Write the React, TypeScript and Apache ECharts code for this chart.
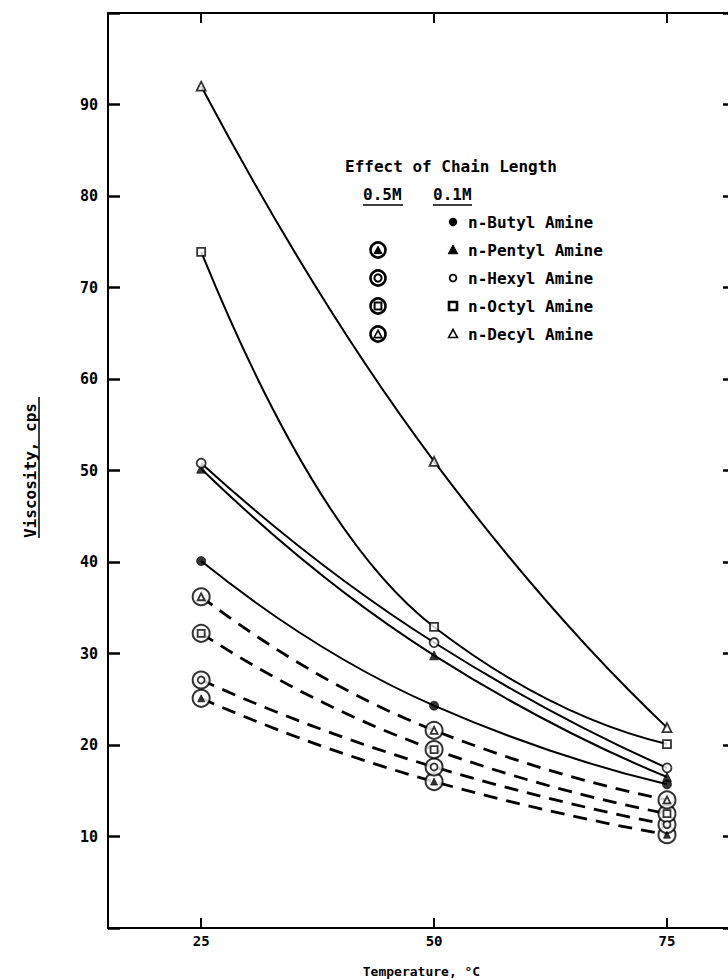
import React, { useEffect, useRef } from "react";
import * as echarts from "echarts";

// Temperatures (°C)
const temps = [25, 50, 75];
// 0.1M series (solid lines)
const butyl01 = [40.1, 24.3, 15.7];
const pentyl01 = [50.2, 29.8, 16.5];
const hexyl01 = [50.8, 31.2, 17.5];
const octyl01 = [73.9, 32.9, 20.1];
const decyl01 = [92.0, 51.0, 21.9];
// 0.5M series (dashed lines)
const pentyl05 = [25.1, 16.0, 10.2];
const hexyl05 = [27.1, 17.6, 11.3];
const octyl05 = [32.2, 19.5, 12.5];
const decyl05 = [36.2, 21.6, 14.0];
// tick labels
const xTicks = [25, 50, 75];

const FF = '"DejaVu Sans Mono", "Liberation Mono", monospace';
const FW = "bold";

const pts = (arr: number[]) => temps.map((t, i) => [t, arr[i]]);

type Sym = { symbol: string; filled: boolean; size: number };
const SYM: Record<string, Sym> = {
  butyl: { symbol: "circle", filled: true, size: 9 },
  pentyl: { symbol: "triangle", filled: true, size: 9 },
  hexyl: { symbol: "circle", filled: false, size: 9 },
  octyl: { symbol: "rect", filled: false, size: 8 },
  decyl: { symbol: "triangle", filled: false, size: 9 },
};

// smooth curve through the data points (monotone Hermite, drawn via the axis scales)
const curveSeries = (name: string, arr: number[], width: number, dash: number[] | null) => ({
  name: name + " curve",
  type: "custom",
  coordinateSystem: "cartesian2d",
  data: pts(arr),
  silent: true,
  z: 2,
  renderItem: (params: any, api: any) => {
    if (params.dataIndex !== 0) return null;
    const n = temps.length;
    const c: number[] = [];
    for (let i = 0; i < n - 1; i++) c.push((arr[i + 1] - arr[i]) / (temps[i + 1] - temps[i]));
    const m: number[] = new Array(n).fill(0);
    for (let i = 1; i < n - 1; i++) {
      m[i] = c[i - 1] * c[i] > 0 ? 2 / (1 / c[i - 1] + 1 / c[i]) : 0;
    }
    m[0] = 2 * c[0] - m[1];
    m[n - 1] = 2 * c[n - 2] - m[n - 2];
    const p0 = api.coord([temps[0], arr[0]]);
    let d = `M${p0[0]},${p0[1]}`;
    for (let i = 0; i < n - 1; i++) {
      const h = temps[i + 1] - temps[i];
      const a = api.coord([temps[i] + h / 3, arr[i] + (m[i] * h) / 3]);
      const b = api.coord([temps[i + 1] - h / 3, arr[i + 1] - (m[i + 1] * h) / 3]);
      const e = api.coord([temps[i + 1], arr[i + 1]]);
      d += ` C${a[0]},${a[1]} ${b[0]},${b[1]} ${e[0]},${e[1]}`;
    }
    return {
      type: "path",
      shape: { pathData: d },
      style: dash
        ? { fill: "none", stroke: "#000", lineWidth: width, lineDash: dash }
        : { fill: "none", stroke: "#000", lineWidth: width },
    };
  },
});

const markerSeries = (name: string, arr: number[], key: string, size: number, z: number) => ({
  name,
  type: "scatter",
  data: pts(arr),
  symbol: SYM[key].symbol,
  symbolSize: size,
  itemStyle: SYM[key].filled
    ? { color: "#000", borderColor: "#000", borderWidth: 0.8 }
    : { color: "#fff", borderColor: "#000", borderWidth: 1.8 },
  silent: true,
  z,
});

const solid = (name: string, arr: number[], key: string) => [
  curveSeries(name, arr, 2, null),
  markerSeries(name, arr, key, SYM[key].size, 4),
];

const dashed = (name: string, arr: number[], key: string) => [
  curveSeries(name, arr, 2.8, [14, 9]),
  {
    name: name + " ring",
    type: "scatter",
    data: pts(arr),
    symbol: "circle",
    symbolSize: 17,
    itemStyle: { color: "#fff", borderColor: "#000", borderWidth: 2 },
    silent: true,
    z: 3,
  },
  markerSeries(name, arr, key, 7, 4),
];

// legend drawing helpers (graphic)
const txt = (x: number, y: number, text: string, size = 16) => ({
  type: "text",
  x,
  y,
  style: {
    text,
    fontFamily: FF,
    fontSize: size,
    fontWeight: FW,
    fill: "#000",
    align: "left",
    verticalAlign: "middle",
  },
});
const hline = (x1: number, x2: number, y: number, w = 1.5) => ({
  type: "line",
  shape: { x1, y1: y, x2, y2: y },
  style: { stroke: "#000", lineWidth: w },
});
const tri = (cx: number, cy: number, r: number, filled: boolean) => ({
  type: "polygon",
  shape: {
    points: [
      [cx, cy - r],
      [cx - r * 0.95, cy + r * 0.75],
      [cx + r * 0.95, cy + r * 0.75],
    ],
  },
  style: filled
    ? { fill: "#000", stroke: "#000", lineWidth: 1 }
    : { fill: "#fff", stroke: "#000", lineWidth: 1.6 },
});
const circ = (cx: number, cy: number, r: number, filled: boolean, lw = 1.8) => ({
  type: "circle",
  shape: { cx, cy, r },
  style: filled ? { fill: "#000" } : { fill: "#fff", stroke: "#000", lineWidth: lw },
});
const sq = (cx: number, cy: number, h: number, lw = 2.4) => ({
  type: "rect",
  shape: { x: cx - h, y: cy - h, width: 2 * h, height: 2 * h },
  style: { fill: "#fff", stroke: "#000", lineWidth: lw },
});

export default function App() {
  const ref = useRef<HTMLDivElement>(null);
  useEffect(() => {
    if (!ref.current) return;
    const chart = echarts.init(ref.current, null, { renderer: "svg" });

    const mx = 453; // 0.1M marker column
    const rx = 378; // 0.5M marker column
    const tx = 468; // row text start
    const rows = [222, 250, 278, 306, 334];

    const graphic: any[] = [
      txt(345, 166, "Effect of Chain Length"),
      txt(363, 194, "0.5M"),
      txt(433, 194, "0.1M"),
      hline(363, 403, 205),
      hline(433, 472, 205),
      txt(tx, rows[0], "n-Butyl Amine"),
      txt(tx, rows[1], "n-Pentyl Amine"),
      txt(tx, rows[2], "n-Hexyl Amine"),
      txt(tx, rows[3], "n-Octyl Amine"),
      txt(tx, rows[4], "n-Decyl Amine"),
      circ(mx, rows[0], 4.2, true),
      tri(mx, rows[1], 5, true),
      circ(mx, rows[2], 3.4, false, 1.8),
      sq(mx, rows[3], 4, 2.6),
      tri(mx, rows[4], 4.6, false),
      circ(rx, rows[1], 7.5, false, 2.6),
      tri(rx, rows[1] + 0.5, 4.2, true),
      circ(rx, rows[2], 7.5, false, 2.6),
      circ(rx, rows[2], 3.6, false, 2),
      circ(rx, rows[3], 7.5, false, 2.6),
      sq(rx, rows[3], 3.4, 2),
      circ(rx, rows[4], 7.5, false, 2.6),
      tri(rx, rows[4] + 0.5, 4.2, false),
      // underline for y-axis title
      {
        type: "line",
        shape: { x1: 39, y1: 397, x2: 39, y2: 538 },
        style: { stroke: "#000", lineWidth: 1.5 },
      },
    ];

    const xBase = {
      type: "value",
      min: 15,
      max: 82.3,
      splitLine: { show: false },
      axisLine: { show: true, onZero: false, lineStyle: { color: "#000", width: 2 } },
      axisTick: {
        show: true,
        inside: true,
        length: 10,
        customValues: xTicks,
        lineStyle: { color: "#000", width: 2 },
      },
    };
    const yBase = {
      type: "value",
      min: 0,
      max: 100,
      interval: 10,
      splitLine: { show: false },
      axisLine: { show: true, onZero: false, lineStyle: { color: "#000", width: 2 } },
      axisTick: {
        show: true,
        inside: true,
        length: 12,
        lineStyle: { color: "#000", width: 2.5 },
      },
    };

    chart.setOption({
      animation: false,
      backgroundColor: "#fff",
      grid: {
        left: 108,
        right: -7,
        top: 13,
        bottom: 51,
        containLabel: false,
        outerBoundsMode: "none",
      },
      xAxis: [
        {
          ...xBase,
          position: "bottom",
          axisLabel: {
            customValues: xTicks,
            color: "#000",
            fontFamily: FF,
            fontWeight: FW,
            fontSize: 14,
            margin: 6,
          },
          name: "Temperature, °C",
          nameLocation: "middle",
          nameGap: 37,
          nameTextStyle: { color: "#000", fontFamily: FF, fontWeight: FW, fontSize: 13 },
        },
        { ...xBase, position: "top", axisLabel: { show: false } },
      ],
      yAxis: [
        {
          ...yBase,
          position: "left",
          axisLabel: {
            color: "#000",
            fontFamily: FF,
            fontWeight: FW,
            fontSize: 15,
            margin: 10,
            formatter: (v: number) => (v === 0 || v === 100 ? "" : String(v)),
          },
          name: "Viscosity, cps",
          nameLocation: "middle",
          nameGap: 70,
          nameTextStyle: { color: "#000", fontFamily: FF, fontWeight: FW, fontSize: 16 },
        },
        { ...yBase, position: "right", axisLabel: { show: false } },
      ],
      graphic,
      series: [
        ...dashed("n-Pentyl Amine 0.5M", pentyl05, "pentyl"),
        ...dashed("n-Hexyl Amine 0.5M", hexyl05, "hexyl"),
        ...dashed("n-Octyl Amine 0.5M", octyl05, "octyl"),
        ...dashed("n-Decyl Amine 0.5M", decyl05, "decyl"),
        ...solid("n-Butyl Amine 0.1M", butyl01, "butyl"),
        ...solid("n-Pentyl Amine 0.1M", pentyl01, "pentyl"),
        ...solid("n-Hexyl Amine 0.1M", hexyl01, "hexyl"),
        ...solid("n-Octyl Amine 0.1M", octyl01, "octyl"),
        ...solid("n-Decyl Amine 0.1M", decyl01, "decyl"),
      ],
    });
    return () => chart.dispose();
  }, []);

  return (
    <div
      ref={ref}
      style={{ width: 728, height: 979, position: "absolute", left: 0, top: 0 }}
    />
  );
}
